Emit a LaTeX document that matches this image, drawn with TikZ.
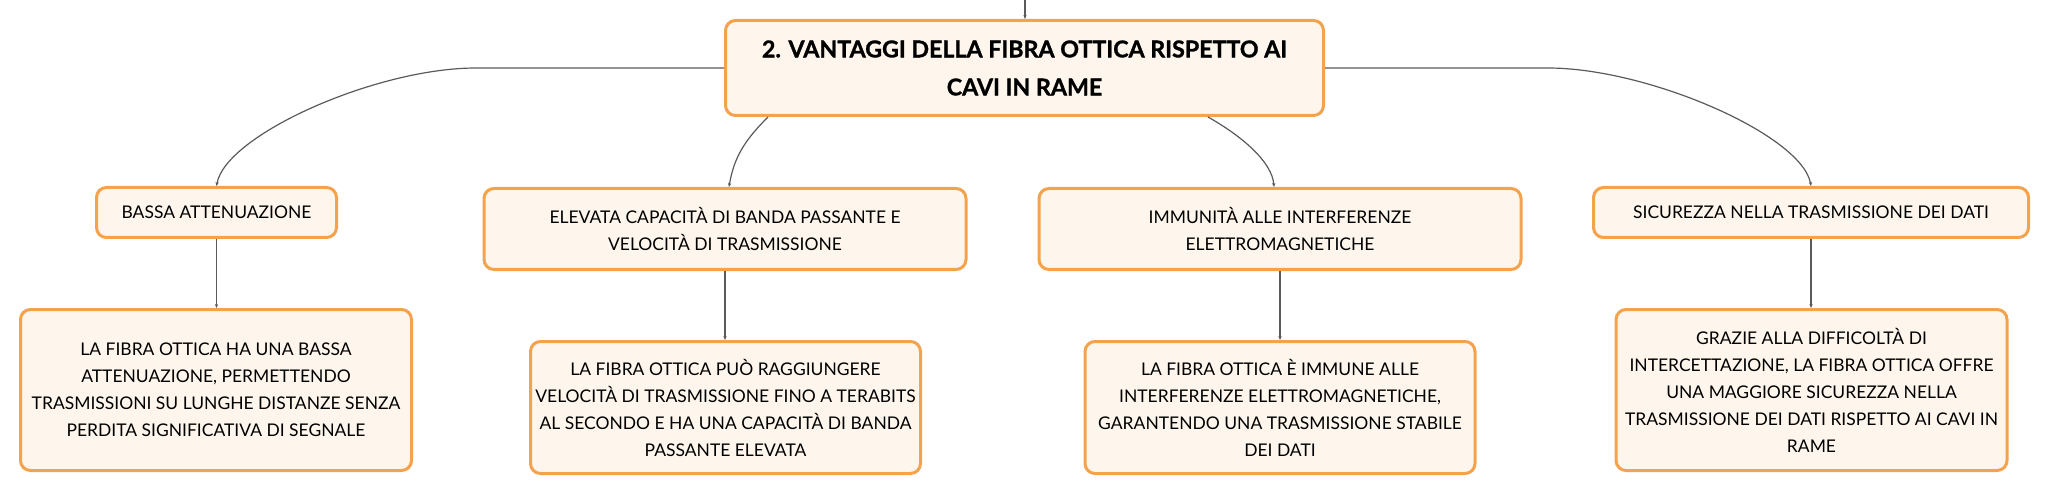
\documentclass[tikz,border=0pt]{standalone}
\usepackage{fontspec}
\setmainfont{Lato}
\newfontfamily\titlefont{Lato}[UprightFont=* Bold, FakeBold=1.2]
\usetikzlibrary{arrows.meta}
\definecolor{boxfill}{HTML}{FEF6EC}
\definecolor{boxline}{HTML}{F4A24C}
\definecolor{connc}{HTML}{5A5A5A}
\begin{document}
\begin{tikzpicture}[x=0.75pt,y=-0.75pt,
  box/.style={draw=boxline, fill=boxfill, line width=2.25pt, rounded corners=7.5pt,
    align=center, inner sep=0pt, font=\fontsize{13.1}{20.25}\selectfont},
  titlebox/.style={box, font=\fontsize{17.4}{28.5}\selectfont\titlefont},
  conn/.style={draw=connc, line width=0.9pt, -{Stealth[length=3pt,width=2.5pt]}},
]
\useasboundingbox (0,0) rectangle (2051,495);

\node[titlebox, minimum width=448.5pt, minimum height=71.25pt] (main) at (1024.5,68)
  {2. VANTAGGI DELLA FIBRA OTTICA RISPETTO AI\\CAVI IN RAME};

\node[box, minimum width=180pt, minimum height=37.5pt] (n1) at (216.5,212.5)
  {BASSA ATTENUAZIONE};
\node[box, minimum width=361.5pt, minimum height=60.75pt] (n2) at (725,229)
  {ELEVATA CAPACITÀ DI BANDA PASSANTE E\\VELOCITÀ DI TRASMISSIONE};
\node[box, minimum width=361.5pt, minimum height=60.75pt] (n3) at (1280,229)
  {IMMUNITÀ ALLE INTERFERENZE\\ELETTROMAGNETICHE};
\node[box, minimum width=326.25pt, minimum height=37.5pt] (n4) at (1811,212.5)
  {SICUREZZA NELLA TRASMISSIONE DEI DATI};

\node[box, minimum width=293.25pt, minimum height=120.75pt] (d1) at (216,390)
  {LA FIBRA OTTICA HA UNA BASSA\\ATTENUAZIONE, PERMETTENDO\\TRASMISSIONI SU LUNGHE DISTANZE SENZA\\PERDITA SIGNIFICATIVA DI SEGNALE};
\node[box, minimum width=292.5pt, minimum height=99pt] (d2) at (725.5,407.5)
  {LA FIBRA OTTICA PUÒ RAGGIUNGERE\\VELOCITÀ DI TRASMISSIONE FINO A TERABITS\\AL SECONDO E HA UNA CAPACITÀ DI BANDA\\PASSANTE ELEVATA};
\node[box, minimum width=292.5pt, minimum height=99pt] (d3) at (1280,407.5)
  {LA FIBRA OTTICA È IMMUNE ALLE\\INTERFERENZE ELETTROMAGNETICHE,\\GARANTENDO UNA TRASMISSIONE STABILE\\DEI DATI};
\node[box, minimum width=293.25pt, minimum height=120.75pt] (d4) at (1811.5,390)
  {GRAZIE ALLA DIFFICOLTÀ DI\\INTERCETTAZIONE, LA FIBRA OTTICA OFFRE\\UNA MAGGIORE SICUREZZA NELLA\\TRASMISSIONE DEI DATI RISPETTO AI CAVI IN\\RAME};

\coordinate (top) at (1025,0);
\draw[conn] (top) -- (top |- main.north);

\draw[conn] (main.west) -- ++(-248,0) .. controls +(-100,0) and +(9,-51) .. (n1.north);
\draw[conn] (main.east) -- ++(223,0) .. controls +(100,0) and +(-9,-51) .. (n4.north);
\draw[conn] ([xshift=-192.4pt]main.south) .. controls +(-23,23) and +(5,-30) .. ([xshift=3pt]n2.north);
\draw[conn] ([xshift=137.6pt]main.south) .. controls +(32,18) and +(-2,-26) .. ([xshift=-4.5pt]n3.north);

\draw[conn] (n1.south) -- (d1.north -| n1.south);
\draw[conn] (n2.south) -- (d2.north -| n2.south);
\draw[conn] (n3.south) -- (d3.north -| n3.south);
\draw[conn] (n4.south) -- (d4.north -| n4.south);
\end{tikzpicture}
\end{document}
